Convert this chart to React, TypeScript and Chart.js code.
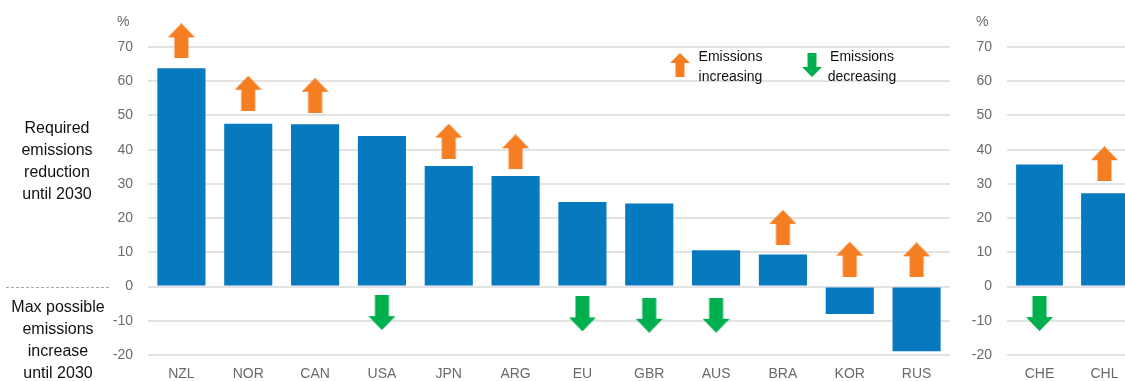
import React, { useEffect, useRef } from 'react';
import { Chart, registerables } from 'chart.js';

Chart.register(...registerables);

// ---------- data ----------
const mainCategories = ['NZL', 'NOR', 'CAN', 'USA', 'JPN', 'ARG', 'EU', 'GBR', 'AUS', 'BRA', 'KOR', 'RUS'];
const mainValues = [63.8, 47.6, 47.4, 44.0, 35.2, 32.3, 24.7, 24.3, 10.6, 9.4, -8.0, -18.9];
// marker levels (in %) for the trend arrows
const mainUpArrows = [71.8, 56.5, 55.9, null, 42.5, 39.4, null, null, null, 17.3, 8.0, 7.8];
const mainDownArrows = [null, null, null, -7.6, null, null, -8.0, -8.4, -8.4, null, null, null];

const sideCategories = ['CHE', 'CHL'];
const sideValues = [35.7, 27.3];
const sideUpArrows = [null, 35.9];
const sideDownArrows = [-7.9, null];

const yMin = -20;
const yMax = 70;
const yStep = 10;
const unitLabel = '%';

const legendIncreasing = ['Emissions', 'increasing'];
const legendDecreasing = ['Emissions', 'decreasing'];
const upperNote = ['Required', 'emissions', 'reduction', 'until 2030'];
const lowerNote = ['Max possible', 'emissions', 'increase', 'until 2030'];

// ---------- styles ----------
const BLUE = '#0779bf';
const ORANGE = '#f57d22';
const GREEN = '#00b04f';
const GRID = '#e3e3e3';
const TICK = '#6a6a6a';
const FONT = "'Liberation Sans', Arial, sans-serif";

function arrowPath(ctx: CanvasRenderingContext2D, x: number, y: number, w: number, h: number, headH: number, shaftW: number, up: boolean) {
  const cx = x + w / 2;
  const sl = cx - shaftW / 2;
  const sr = cx + shaftW / 2;
  ctx.beginPath();
  if (up) {
    ctx.moveTo(cx, y);
    ctx.lineTo(x + w, y + headH);
    ctx.lineTo(sr, y + headH);
    ctx.lineTo(sr, y + h);
    ctx.lineTo(sl, y + h);
    ctx.lineTo(sl, y + headH);
    ctx.lineTo(x, y + headH);
  } else {
    ctx.moveTo(cx, y + h);
    ctx.lineTo(x + w, y + h - headH);
    ctx.lineTo(sr, y + h - headH);
    ctx.lineTo(sr, y);
    ctx.lineTo(sl, y);
    ctx.lineTo(sl, y + h - headH);
    ctx.lineTo(x, y + h - headH);
  }
  ctx.closePath();
}

function makeArrow(color: string, up: boolean) {
  const c = document.createElement('canvas');
  c.width = 27;
  c.height = 35;
  const ctx = c.getContext('2d')!;
  ctx.fillStyle = color;
  arrowPath(ctx, 0, 0, 27, 35, 14, 14, up);
  ctx.fill();
  return c;
}

function buildConfig(
  categories: string[],
  values: number[],
  ups: (number | null)[],
  downs: (number | null)[],
  yWidth: number,
  rightPad: number,
  extraPlugin: any
): any {
  const upImg = makeArrow(ORANGE, true);
  const downImg = makeArrow(GREEN, false);
  const arrowDs = (data: (number | null)[], img: HTMLCanvasElement) => ({
    type: 'line',
    data,
    showLine: false,
    pointStyle: img,
    pointRadius: 20,
    pointHoverRadius: 20,
    pointBorderWidth: 0,
    clip: false,
    order: 1,
  });
  return {
    type: 'bar',
    data: {
      labels: categories,
      datasets: [
        {
          type: 'bar',
          data: values,
          backgroundColor: BLUE,
          borderWidth: 0,
          barPercentage: 0.72,
          categoryPercentage: 1,
          order: 2,
        },
        arrowDs(ups, upImg),
        arrowDs(downs, downImg),
      ],
    },
    options: {
      responsive: false,
      animation: false,
      events: [],
      layout: { autoPadding: false, padding: { top: 47, right: rightPad, bottom: 0, left: 0 } },
      plugins: { legend: { display: false }, tooltip: { enabled: false } },
      scales: {
        x: {
          grid: { display: false, drawTicks: false },
          border: { display: false },
          ticks: { color: TICK, font: { size: 14, family: FONT }, padding: 11, maxRotation: 0, autoSkip: false },
          afterFit: (s: any) => {
            s.height = 26;
            s.paddingLeft = 0;
            s.paddingRight = 0;
          },
        },
        y: {
          min: yMin,
          max: yMax,
          grid: { color: GRID, lineWidth: 2, drawTicks: false },
          border: { display: false },
          ticks: { stepSize: yStep, color: TICK, font: { size: 14, family: FONT }, padding: 15 },
          afterFit: (s: any) => { s.width = yWidth; },
        },
      },
    },
    plugins: [extraPlugin],
  };
}

function drawUnit(chart: any) {
  const ctx = chart.ctx as CanvasRenderingContext2D;
  ctx.save();
  ctx.font = `14px ${FONT}`;
  ctx.fillStyle = TICK;
  ctx.textAlign = 'left';
  ctx.textBaseline = 'middle';
  ctx.fillText(unitLabel, chart.chartArea.left - 31, 22);
  ctx.restore();
}

const mainPlugin = {
  id: 'mainAnnotations',
  afterDraw(chart: any) {
    drawUnit(chart);
    const ctx = chart.ctx as CanvasRenderingContext2D;
    ctx.save();
    // side notes
    ctx.font = `16px ${FONT}`;
    ctx.fillStyle = '#111';
    ctx.textAlign = 'center';
    ctx.textBaseline = 'alphabetic';
    upperNote.forEach((t, i) => ctx.fillText(t, 57, 133 + i * 22));
    lowerNote.forEach((t, i) => ctx.fillText(t, 58, 311.5 + i * 22));
    // dashed separator at zero
    const zy = Math.round(chart.scales.y.getPixelForValue(0)) + 0.5;
    ctx.strokeStyle = '#a6a6a6';
    ctx.lineWidth = 1;
    ctx.setLineDash([3, 2]);
    ctx.beginPath();
    ctx.moveTo(6, zy);
    ctx.lineTo(110, zy);
    ctx.stroke();
    ctx.setLineDash([]);
    // legend
    ctx.fillStyle = ORANGE;
    arrowPath(ctx, 670, 53, 20, 24, 10, 9, true);
    ctx.fill();
    ctx.fillStyle = GREEN;
    arrowPath(ctx, 802, 53, 20, 24, 10, 9, false);
    ctx.fill();
    ctx.font = `14px ${FONT}`;
    ctx.fillStyle = '#111';
    ctx.textAlign = 'center';
    legendIncreasing.forEach((t, i) => ctx.fillText(t, 730.5, 60.5 + i * 20));
    legendDecreasing.forEach((t, i) => ctx.fillText(t, 862, 60.5 + i * 20));
    ctx.restore();
  },
};

const sidePlugin = {
  id: 'sideAnnotations',
  afterDraw(chart: any) {
    drawUnit(chart);
  },
};

export default function App() {
  const mainRef = useRef<HTMLCanvasElement>(null);
  const sideRef = useRef<HTMLCanvasElement>(null);

  useEffect(() => {
    Chart.defaults.font.family = FONT;
    const c1 = new Chart(
      mainRef.current!,
      buildConfig(mainCategories, mainValues, mainUpArrows, mainDownArrows, 148, 10, mainPlugin)
    );
    const c2 = new Chart(
      sideRef.current!,
      buildConfig(sideCategories, sideValues, sideUpArrows, sideDownArrows, 47, 13, sidePlugin)
    );
    return () => {
      c1.destroy();
      c2.destroy();
    };
  }, []);

  return (
    <div
      style={{
        position: 'fixed',
        left: 0,
        top: 0,
        width: 1125,
        height: 381,
        overflow: 'hidden',
        background: '#fff',
      }}
    >
      <canvas ref={mainRef} width={960} height={381} style={{ position: 'absolute', left: 0, top: 0 }} />
      <canvas ref={sideRef} width={190} height={381} style={{ position: 'absolute', left: 960, top: 0 }} />
    </div>
  );
}
